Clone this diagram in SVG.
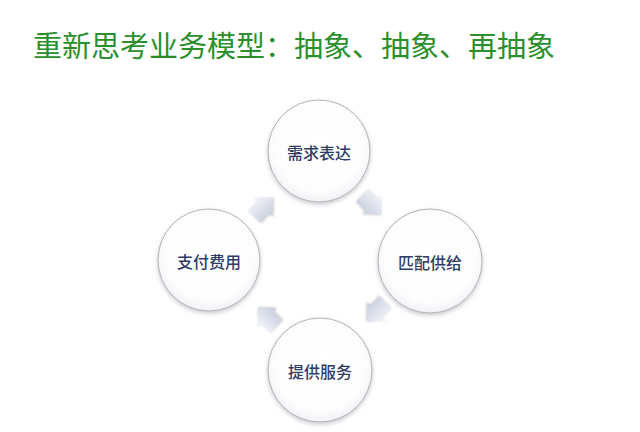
<svg xmlns="http://www.w3.org/2000/svg" width="640" height="432" viewBox="0 0 640 432">
  <defs>
    <radialGradient id="circFill" cx="50%" cy="45%" r="55%">
      <stop offset="0%" stop-color="#ffffff"/>
      <stop offset="80%" stop-color="#fdfdfe"/>
      <stop offset="100%" stop-color="#f1f2f5"/>
    </radialGradient>
    <linearGradient id="arrFill" x1="0" y1="0" x2="0" y2="1">
      <stop offset="0%" stop-color="#f4f5fa"/>
      <stop offset="100%" stop-color="#c8cedf"/>
    </linearGradient>
    <filter id="shadow" x="-20%" y="-20%" width="140%" height="150%">
      <feDropShadow dx="0" dy="2" stdDeviation="2" flood-color="#8a8a96" flood-opacity="0.45"/>
    </filter>
    <filter id="ashadow" x="-30%" y="-30%" width="160%" height="160%">
      <feDropShadow dx="0" dy="1.5" stdDeviation="1.2" flood-color="#8a8a96" flood-opacity="0.5"/>
    </filter>
    <path id="arrow" d="M-13,-8.5 L0,-8.5 L0,-13 L14,0 L0,13 L0,8.5 L-13,8.5 Z"/>
  </defs>
  <style>
    .title { font-family: "Noto Sans CJK SC", "Liberation Sans", sans-serif; font-size: 29px; fill: #2b8f2b; }
    .circle { fill: url(#circFill); stroke: #b3b3b8; stroke-width: 1; filter: url(#shadow); }
    .label { font-family: "Noto Sans CJK SC", "Liberation Sans", sans-serif; font-size: 16px; font-weight: 500; fill: #2f3c66; text-anchor: middle; dominant-baseline: central; }
    .arr { fill: url(#arrFill); filter: url(#ashadow); }
  </style>
  <rect width="640" height="432" fill="#ffffff"/>
  <text class="title" x="33" y="57">重新思考业务模型：抽象、抽象、再抽象</text>

  <g id="connectors">
    <use href="#arrow" class="arr" transform="translate(372,204) rotate(45)"/>
    <use href="#arrow" class="arr" transform="translate(377,312) rotate(135)"/>
    <use href="#arrow" class="arr" transform="translate(267,318) rotate(225)"/>
    <use href="#arrow" class="arr" transform="translate(263,207) rotate(-45)"/>
  </g>

  <g id="node-demand">
    <circle class="circle" cx="319" cy="151" r="51"/>
    <text class="label" x="319" y="152">需求表达</text>
  </g>
  <g id="node-match">
    <circle class="circle" cx="430" cy="261" r="52"/>
    <text class="label" x="430" y="262">匹配供给</text>
  </g>
  <g id="node-service">
    <circle class="circle" cx="320" cy="370" r="52"/>
    <text class="label" x="320" y="371">提供服务</text>
  </g>
  <g id="node-pay">
    <circle class="circle" cx="209" cy="260" r="51"/>
    <text class="label" x="209" y="261">支付费用</text>
  </g>
</svg>
